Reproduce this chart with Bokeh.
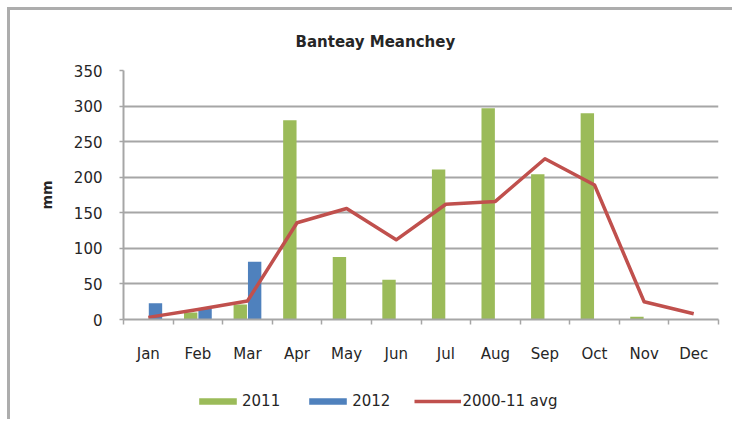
from bokeh.plotting import figure
from bokeh.models import ColumnDataSource, FixedTicker, Legend, LegendItem, Range1d
from bokeh.layouts import column
from bokeh.transform import dodge
from bokeh.embed import file_html
from bokeh.resources import INLINE

# ---- data ----
months = ["Jan", "Feb", "Mar", "Apr", "May", "Jun", "Jul", "Aug", "Sep", "Oct", "Nov", "Dec"]
rain_2011 = [0, 10, 21, 280, 88, 56, 211, 297, 204, 290, 4, 0]
rain_2012 = [23, 15, 81, 0, 0, 0, 0, 0, 0, 0, 0, 0]
avg_2000_11 = [3, 14, 26, 136, 156, 112, 162, 166, 226, 189, 25, 8]
y_ticks = [0, 50, 100, 150, 200, 250, 300, 350]
series_names = ["2011", "2012", "2000-11 avg"]

FONT = "DejaVu Sans"
TXT = "#262626"
GRID = "#a6a6a6"
C2011, C2012, CAVG = "#9BBB59", "#4F81BD", "#C0504D"

idx = list(range(len(months)))
src = ColumnDataSource(dict(x=idx, r2011=rain_2011, r2012=rain_2012, avg=avg_2000_11))

p = figure(width=722, height=371, output_backend="svg", toolbar_location=None,
           x_range=Range1d(-0.5, len(months) - 0.5), y_range=Range1d(0, 350),
           min_border_left=113, min_border_right=14, min_border_top=60, min_border_bottom=62,
           title="Banteay Meanchey")
p.outline_line_color = None
p.background_fill_color = "white"
p.border_fill_color = "white"

p.title.align = "left"
p.title.offset = 172
p.title.standoff = 40
p.title.text_font = FONT
p.title.text_font_style = "bold"
p.title.text_font_size = "15px"
p.title.text_color = TXT

BAR_W, DODGE = 0.27, 0.145


def draw_series(fig):
    a = fig.vbar(x=dodge("x", -DODGE), top="r2011", width=BAR_W, source=src,
                 fill_color=C2011, line_color=None)
    b = fig.vbar(x=dodge("x", DODGE), top="r2012", width=BAR_W, source=src,
                 fill_color=C2012, line_color=None)
    c = fig.line(x="x", y="avg", source=src, line_color=CAVG, line_width=3.5,
                 line_join="round")
    return a, b, c


draw_series(p)

# x axis
xa = p.xaxis[0]
xa.ticker = FixedTicker(ticks=idx, minor_ticks=[i - 0.5 for i in range(len(months) + 1)])
xa.major_label_overrides = {i: m for i, m in zip(idx, months)}
xa.major_tick_out = 0
xa.major_tick_in = 0
xa.minor_tick_out = 5
xa.minor_tick_in = 0
xa.minor_tick_line_color = GRID
xa.minor_tick_line_width = 1.5
xa.axis_line_color = GRID
xa.axis_line_width = 2
xa.major_label_standoff = 20
xa.major_label_text_font = FONT
xa.major_label_text_font_size = "15px"
xa.major_label_text_color = TXT

# y axis
ya = p.yaxis[0]
ya.ticker = FixedTicker(ticks=y_ticks)
ya.major_tick_out = 4
ya.major_tick_in = 0
ya.minor_tick_out = 0
ya.minor_tick_in = 0
ya.major_tick_line_color = GRID
ya.major_tick_line_width = 1.5
ya.axis_line_color = GRID
ya.axis_line_width = 2
ya.major_label_standoff = 17
ya.major_label_text_font = FONT
ya.major_label_text_font_size = "15px"
ya.major_label_text_color = TXT
ya.axis_label = "mm"
ya.axis_label_text_font = FONT
ya.axis_label_text_font_style = "bold"
ya.axis_label_text_font_size = "14px"
ya.axis_label_text_color = TXT
ya.axis_label_standoff = 16

p.xgrid.visible = False
p.ygrid.ticker = FixedTicker(ticks=y_ticks)
p.ygrid.grid_line_color = GRID
p.ygrid.grid_line_width = 2

# ---- legend strip: a second figure whose visible range shows none of the data,
# so only the legend (inside its own frame) is seen ----
leg = figure(width=722, height=38, output_backend="svg", toolbar_location=None,
             x_range=Range1d(100, 101), y_range=Range1d(1000, 1001), min_border=0,
             x_axis_type=None, y_axis_type=None)
leg.outline_line_color = None
leg.grid.visible = False
g1, g2, g3 = draw_series(leg)
legend = Legend(items=[LegendItem(label=series_names[0], renderers=[g1]),
                       LegendItem(label=series_names[1], renderers=[g2]),
                       LegendItem(label=series_names[2], renderers=[g3])],
                location=(71, 9), orientation="horizontal",
                glyph_width=47, glyph_height=8, label_height=16, label_standoff=1,
                spacing=24, padding=0, margin=0, border_line_color=None,
                background_fill_alpha=0, label_text_font=FONT,
                label_text_font_size="15px", label_text_color=TXT)
leg.add_layout(legend)

layout = column(p, leg, spacing=0,
                styles={"border-top": "3px solid #adadad", "border-left": "3px solid #adadad",
                        "margin": "7px 0 0 7px"})

open("out.html", "w").write(file_html(layout, INLINE))
